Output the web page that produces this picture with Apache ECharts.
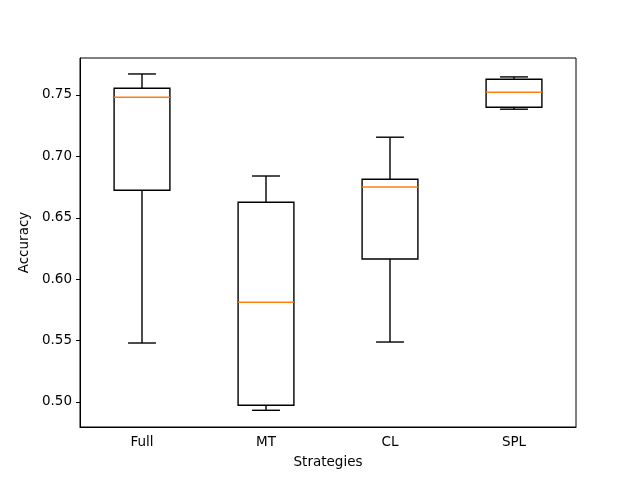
<!DOCTYPE html>
<html>
<head>
<meta charset="utf-8">
<script src="https://cdn.jsdelivr.net/npm/echarts@6/dist/echarts.min.js"></script>
<style>
  html, body { margin: 0; padding: 0; background: #fff; }
  #myCanvas { width: 640px; height: 480px; }
</style>
</head>
<body>
<div id="myCanvas"></div>
<script>
// values
var categories = ['Full', 'MT', 'CL', 'SPL'];
var lowWhisker = [0.5480, 0.4932, 0.5488, 0.7384];
var q1 = [0.6724, 0.4973, 0.6164, 0.7400];
var median = [0.7481, 0.5812, 0.6751, 0.7522];
var q3 = [0.7555, 0.6626, 0.6814, 0.7628];
var highWhisker = [0.7671, 0.6840, 0.7156, 0.7647];
var yTicks = [0.50, 0.55, 0.60, 0.65, 0.70, 0.75];

var boxData = categories.map(function (c, i) {
    return [i, lowWhisker[i], q1[i], median[i], q3[i], highWhisker[i]];
});

var font = 'DejaVu Sans';
var lw = 1.4;

function renderBox(params, api) {
    var x = api.value(0);
    var pLow = api.coord([x, api.value(1)]);
    var pQ1 = api.coord([x, api.value(2)]);
    var pMed = api.coord([x, api.value(3)]);
    var pQ3 = api.coord([x, api.value(4)]);
    var pHigh = api.coord([x, api.value(5)]);
    var band = api.size([1, 0])[0];
    var half = band * 0.45 / 2;
    var cap = half / 2;
    var cx = pMed[0];
    var black = { stroke: '#000', lineWidth: lw, fill: null };
    return {
        type: 'group',
        children: [
            { type: 'line', shape: { x1: cx, y1: pQ3[1], x2: cx, y2: pHigh[1] }, style: black },
            { type: 'line', shape: { x1: cx, y1: pQ1[1], x2: cx, y2: pLow[1] }, style: black },
            { type: 'line', shape: { x1: cx - cap, y1: pHigh[1], x2: cx + cap, y2: pHigh[1] }, style: black },
            { type: 'line', shape: { x1: cx - cap, y1: pLow[1], x2: cx + cap, y2: pLow[1] }, style: black },
            { type: 'rect', shape: { x: cx - half, y: pQ3[1], width: half * 2, height: pQ1[1] - pQ3[1] }, style: black },
            { type: 'line', shape: { x1: cx - half, y1: pMed[1], x2: cx + half, y2: pMed[1] },
              style: { stroke: '#ff7f0e', lineWidth: lw } }
        ]
    };
}

var myChart = echarts.init(document.getElementById('myCanvas'));
var option = {
    backgroundColor: '#fff',
    animation: false,
    grid: {
        left: 80,
        right: 64,
        top: 58,
        bottom: 53,
        show: true,
        borderColor: '#000',
        borderWidth: 1
    },
    xAxis: {
        type: 'category',
        data: categories,
        boundaryGap: true,
        name: 'Strategies',
        nameLocation: 'middle',
        nameGap: 28,
        nameTextStyle: { fontFamily: font, fontSize: 13.5, color: '#000' },
        axisLine: { lineStyle: { color: '#000', width: 1 } },
        axisTick: { alignWithLabel: true, length: 4, inside: false, lineStyle: { color: '#000' } },
        axisLabel: { margin: 8, fontFamily: font, fontSize: 13.5, color: '#000' },
        splitLine: { show: false }
    },
    yAxis: {
        type: 'value',
        min: 0.4796,
        max: 0.7801,
        name: 'Accuracy',
        nameLocation: 'middle',
        nameGap: 44,
        nameTextStyle: { fontFamily: font, fontSize: 13.5, color: '#000' },
        axisLine: { show: true, lineStyle: { color: '#000', width: 1 } },
        axisTick: { show: true, length: 4, customValues: yTicks, lineStyle: { color: '#000' } },
        axisLabel: {
            margin: 8,
            fontFamily: font,
            fontSize: 13.5,
            color: '#000',
            customValues: yTicks,
            formatter: function (v) { return v.toFixed(2); }
        },
        splitLine: { show: false }
    },
    series: [{
        type: 'custom',
        renderItem: renderBox,
        encode: { x: 0, y: [1, 2, 3, 4, 5] },
        data: boxData
    }]
};
myChart.setOption(option);
</script>
</body>
</html>
